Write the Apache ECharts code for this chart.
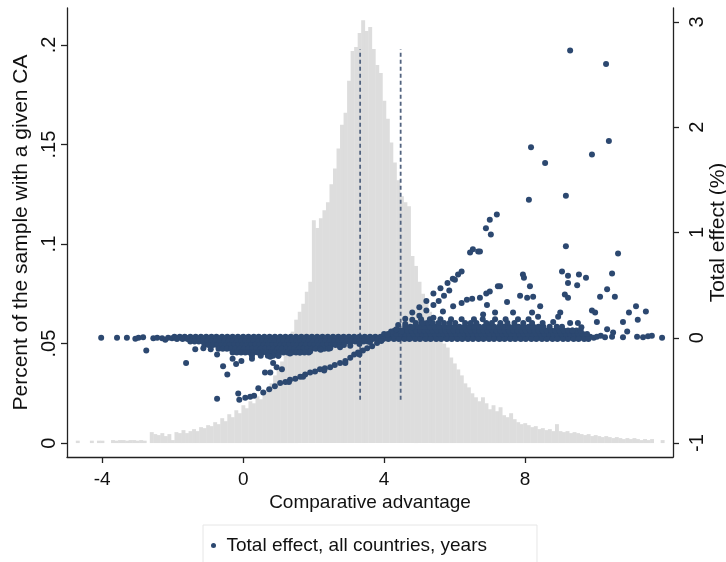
<!DOCTYPE html>
<html>
<head>
<meta charset="utf-8">
<script src="https://cdn.jsdelivr.net/npm/echarts@6/dist/echarts.min.js"></script>
<style>html,body{margin:0;padding:0;background:#fff;}#c{width:726px;height:562px;}</style>
</head>
<body>
<div id="c"></div>
<script>
// ---------- DATA ----------
const xTicks = [-4, 0, 4, 8];
const leftTicks = [0, 0.05, 0.1, 0.15, 0.2];
const rightTicks = [-1, 0, 1, 2, 3];
const xTitle = 'Comparative advantage';
const leftTitle = 'Percent of the sample with a given CA';
const rightTitle = 'Total effect (%)';
const seriesName = 'Total effect, all countries, years';

// Histogram: bin centers start at -4.7, width 0.1
const histBinStart = -4.7;
const histBinWidth = 0.1;
const histHeights = [
  0.0012,0,0,0,0.0012,0,0.0012,0.0012,0,0,
  0.0015,0.0012,0.0015,0.0015,0.0012,0.0015,0.0015,0.0012,0.0015,0.0012,
  0,0.0055,0.0045,0.004,0.005,0.0035,0.0045,0.0015,0.0055,0.005,
  0.0065,0.005,0.006,0.007,0.006,0.008,0.0075,0.009,0.0085,0.0105,
  0.0095,0.0125,0.011,0.0145,0.013,0.0165,0.015,0.019,0.0175,0.021,
  0.02,0.0235,0.022,0.026,0.0275,0.03,0.034,0.037,0.041,0.045,
  0.05,0.056,0.062,0.066,0.07,0.076,0.081,0.112,0.108,0.113,
  0.117,0.121,0.13,0.138,0.148,0.16,0.166,0.182,0.197,0.199,
  0.206,0.2125,0.207,0.209,0.198,0.19,0.186,0.172,0.163,0.151,
  0.141,0.132,0.124,0.121,0.119,0.094,0.089,0.081,0.075,0.07,
  0.066,0.061,0.057,0.052,0.05,0.048,0.043,0.04,0.037,0.034,
  0.03,0.028,0.025,0.023,0.021,0.023,0.02,0.017,0.019,0.016,
  0.018,0.014,0.013,0.015,0.012,0.0105,0.0095,0.01,0.009,0.008,
  0.0085,0.007,0.0075,0.0065,0.007,0.006,0.0095,0.006,0.0055,0.006,
  0.005,0.0055,0.005,0.0045,0.004,0.0045,0.0035,0.004,0.0035,0.003,
  0.0035,0.003,0.0025,0.003,0.0025,0.002,0.0025,0.002,0.0025,0.002,
  0.0015,0.002,0.0015,0.002,0,0,0.0015
];

// Vertical dashed reference lines (right-axis units)
const dashLeft = [[3.32,-0.59],[3.32,2.74]];
const dashRight = [[4.47,-0.59],[4.47,2.74]];

// Scatter: total effect (%) vs comparative advantage, dense rows given as [y, [x...]]
const bandRows = [
  [0.01, [-1.95,-1.8,-1.66,-1.5,-1.35,-1.2,-1.05,-0.9,-0.76,-0.6,-0.45,-0.3,-0.15,0,0.15,0.3,0.44,0.6,0.75,0.9,
    1.05,1.2,1.35,1.5,1.65,1.8,1.95,2.1,2.25,2.4,2.55,2.7,2.85,3,3.15,3.3,3.45,3.6,3.75,3.9,4.05,4.2,4.35,4.5,4.65,
    4.8,4.95,5.1,5.25,5.4,5.55,5.7,5.85,6,6.15,6.3,6.45,6.6,6.75,6.9,7.05,7.2,7.35,7.5,7.65,7.8,7.95,8.1,8.25,8.4,
    8.55,8.7,8.85,9,9.15,9.3,9.45,9.6,9.75,9.85]],
  [0, [-1.92,-1.77,-1.62,-1.47,-1.32,-1.17,-1.02,-0.87,-0.72,-0.57,-0.42,-0.27,-0.12,0.03,0.18,0.33,0.48,0.63,0.78,
    0.93,1.08,1.23,1.38,1.53,1.68,1.83,1.98,2.13,2.28,2.43,2.58,2.73,2.88,3.03,3.18,3.33,3.48,3.63,3.78,3.93,4.08,
    4.23,4.38,4.53,4.68,4.83,4.98,5.13,5.28,5.43,5.58,5.73,5.88,6.03,6.18,6.33,6.48,6.63,6.78,6.93,7.08,7.23,7.38,
    7.53,7.68,7.83,7.98,8.13,8.28,8.43,8.58,8.73,8.88,9.03,9.18,9.33,9.48,9.63,9.78]],
  [-0.012, [-1.88,-1.72,-1.58,-1.43,-1.28,-1.12,-0.98,-0.83,-0.68,-0.52,-0.38,-0.22,-0.08,0.08,0.22,0.37,0.52,0.68,
    0.82,0.98,1.12,1.28,1.42,1.58,1.72,1.88,2.02,2.18,2.32,2.48,2.62,2.78,2.92,3.08,3.22,3.38,3.52,3.68,3.82,3.98,
    4.12,4.28,4.42,4.58,4.72,4.88,5.02,5.18,5.32,5.48,5.62,5.78,5.92,6.08,6.22,6.38,6.52,6.68,6.82,6.98,7.12,7.28,
    7.42,7.58,7.72,7.88,8.02,8.18,8.32,8.48,8.62,8.78,8.92,9.08,9.22,9.38,9.52,9.68,9.8]]
];
const wedgeRows = [
  [-0.035, [-1.5,-1.38,-1.26,-1.14,-1.02,-0.9,-0.78,-0.66,-0.54,-0.42,-0.3,-0.18,-0.06,0.06,0.18,0.3,0.42,0.54,0.66,
    0.78,0.9,1.02,1.14,1.26,1.38,1.5,1.62,1.74,1.86,1.98,2.1,2.22,2.34,2.46,2.58,2.7,2.82,2.94,3.06,3.18,3.3,3.42,3.54]],
  [-0.07, [-1.1,-0.98,-0.86,-0.74,-0.62,-0.5,-0.38,-0.26,-0.14,-0.02,0.1,0.22,0.34,0.46,0.58,0.7,0.82,0.94,1.06,
    1.18,1.3,1.42,1.54,1.66,1.78,1.9,2.02,2.14,2.26,2.38,2.5,2.62,2.74,2.86]],
  [-0.105, [-0.7,-0.58,-0.46,-0.34,-0.22,-0.1,0.02,0.14,0.26,0.38,0.5,0.62,0.74,0.86,0.98,1.1,1.22,1.34,1.46,1.58,
    1.7,1.82,1.94,2.06,2.18,2.3,2.42]],
  [-0.14, [-0.3,-0.18,-0.06,0.06,0.18,0.3,0.42,0.54,0.66,0.78,0.9,1.02,1.14,1.26,1.38,1.5,1.62,1.74,1.86]],
  [-0.17, [0.25,0.5,0.7,0.85,1.0]]
];
const posRows = [
  [0.035, [4.0,4.12,4.24,4.36,4.48,4.6,4.72,4.84,4.96,5.08,5.2,5.32,5.44,5.56,5.68,5.8,5.92,6.04,6.16,6.28,6.4,6.52,
    6.64,6.76,6.88,7.0,7.12,7.24,7.36,7.48,7.6,7.72,7.84,7.96,8.08,8.2,8.32,8.44,8.56,8.68,8.8,8.92,9.04,9.16,9.28,
    9.4,9.52,9.64,9.76]],
  [0.07, [4.3,4.42,4.54,4.66,4.78,4.9,5.02,5.14,5.26,5.38,5.5,5.62,5.74,5.86,5.98,6.1,6.22,6.34,6.46,6.58,6.7,6.82,
    6.94,7.06,7.18,7.3,7.42,7.54,7.66,7.78,7.9,8.02,8.14,8.26,8.38,8.5,8.62,8.74,8.86,8.98,9.1,9.22,9.34,9.46,9.58]],
  [0.105, [4.6,4.74,4.88,5.02,5.16,5.3,5.44,5.58,5.72,5.86,6.0,6.14,6.28,6.42,6.56,6.7,6.84,6.98,7.12,7.26,7.4,7.54,
    7.68,7.82,7.96,8.1,8.24,8.38,8.52,8.7,8.9,9.05]],
  [0.14, [4.9,5.06,5.22,5.38,5.54,5.7,5.86,6.02,6.3,6.46,6.62,6.9,7.06,7.3,7.5,7.7,7.95,8.2,8.5]],
  [0.175, [5.05,5.3,5.6,5.9,6.2,6.55,6.8,7.15,7.45,7.8,8.1]]
];
const bandLeftPts = [[-4.03,0],[-3.58,0],[-3.3,0],[-3.06,-0.01],[-2.97,0],[-2.84,0.005],[-2.75,-0.12],
  [-2.55,-0.005],[-2.44,0],[-2.3,-0.005],[-2.21,-0.02],[-2.13,0],[-2.02,-0.005],[-1.62,-0.24]];
const bandRightPts = [[9.95,0],[10.04,0.01],[10.15,0.02],[10.27,0.005],[10.47,0.01],[10.78,0.005],[11.18,0.01],
  [11.35,0.005],[11.49,0.015],[11.6,0.02],[11.89,0]];
const negScatterPts = [[-1.36,-0.11],[-1.13,-0.1],[-0.92,-0.11],[-0.74,-0.16],[-0.57,-0.27],[-0.45,-0.35],
  [-0.2,-0.25],[-0.3,-0.2],[0.62,-0.33],[0.85,-0.24],[0.77,-0.33],[0.95,-0.28],[1.1,-0.3],[-0.05,-0.22],[0.25,-0.2],
  [0.77,-0.18],[1.0,-0.17],[1.33,-0.15],[1.6,-0.14],[1.9,-0.13],[2.2,-0.115],[2.47,-0.1],[2.75,-0.09],
  [3.04,-0.075],[3.3,-0.06],[3.6,-0.04]];
const lowerLinePts = [[-0.74,-0.58],[-0.14,-0.53],[-0.11,-0.59],[0.06,-0.57],[0.2,-0.56],[0.31,-0.55],[0.43,-0.48],
  [0.57,-0.52],[0.74,-0.49],[0.9,-0.46],[1.05,-0.43],[1.2,-0.42],[1.33,-0.4],[1.48,-0.39],[1.62,-0.37],[1.76,-0.35],
  [1.9,-0.33],[2.04,-0.32],[2.18,-0.3],[2.32,-0.29],[2.47,-0.28],[2.6,-0.26],[2.75,-0.24],[2.9,-0.22],[3.04,-0.19],
  [3.15,-0.16],[3.26,-0.14],[3.4,-0.12],[3.52,-0.1],[3.66,-0.08],[3.8,-0.05],[3.92,-0.03],
  [1.3,-0.42],[1.7,-0.37],[2.3,-0.31],[2.9,-0.24],[3.3,-0.16]];
const fanPts = [
  [4.2,0.06],[4.4,0.12],[4.6,0.18],[4.8,0.24],[5.0,0.29],[5.2,0.35],[5.4,0.42],[5.6,0.47],[5.8,0.52],[5.95,0.56],[6.1,0.6],[6.2,0.63],
  [4.1,0.03],[4.35,0.08],[4.6,0.13],[4.8,0.17],[5.0,0.21],[5.2,0.26],[5.4,0.31],[5.55,0.35],[5.7,0.4],[5.85,0.45],
  [4.5,0.06],[4.8,0.1],[5.1,0.14],[5.4,0.19],[5.67,0.25],[5.96,0.3],[6.2,0.33],[6.35,0.36],[6.5,0.37],[6.72,0.38],[6.9,0.42],[7.0,0.44],[7.23,0.49]];
const posScatterPts = [
  [6.01,0.55],[6.44,0.81],[6.52,0.84],[6.67,0.82],[6.89,1.04],[7.0,1.12],[7.2,1.17],[7.03,0.98],[7.49,0.34],
  [7.94,0.6],[7.97,0.57],[6.72,0.82],
  [9.28,2.73],[10.3,2.6],[8.17,1.81],[8.57,1.66],[10.38,1.87],[9.9,1.74],[8.11,1.31],[9.16,1.35],
  [9.16,0.87],[10.64,0.8],[9.05,0.63],[9.22,0.59],[9.53,0.6],[9.73,0.57],[10.47,0.61],
  [7.29,0.49],[8.14,0.49],[9.22,0.52],[9.48,0.5],[10.33,0.46],[7.86,0.4],[8.06,0.38],[8.23,0.39],
  [9.13,0.41],[9.22,0.38],[10.13,0.39],[10.55,0.39],[8.43,0.3],[9.0,0.24],[9.9,0.26],[9.99,0.24],
  [11.15,0.3],[10.95,0.24],[11.43,0.25],[11.2,0.17],[10.78,0.15],[6.92,0.31],[6.81,0.22],[7.15,0.24],
  [7.66,0.24],[8.2,0.24],[8.37,0.2],[8.94,0.2],[8.8,0.15],[9.28,0.14],[9.5,0.14],[10.04,0.15],[10.33,0.08],
  [9.6,0.1],[9.35,0.07],[10.5,0.05],[10.9,0.06]];

// ---------- CHART ----------
const NAVY = '#2c4870';
const FONT = 'Liberation Sans, Arial, Helvetica, sans-serif';
function rowsToPts(rows) {
  const out = [];
  rows.forEach(r => r[1].forEach(x => out.push([x, r[0]])));
  return out;
}
const scatterData = [].concat(bandLeftPts, rowsToPts(bandRows), bandRightPts, rowsToPts(wedgeRows),
  negScatterPts, lowerLinePts, rowsToPts(posRows), fanPts, posScatterPts);
const histData = histHeights.map((h, i) => [histBinStart + i * histBinWidth, h]);

const chart = echarts.init(document.getElementById('c'), null, {renderer: 'canvas'});
const axisLineStyle = {color: '#222', width: 1.3};
chart.setOption({
  animation: false,
  backgroundColor: '#fff',
  textStyle: {fontFamily: FONT},
  grid: {left: 67, right: 53, top: 8, bottom: 105, containLabel: false, outerBoundsMode: 'none'},
  legend: {
    data: [{name: seriesName, icon: 'circle'}],
    left: 203, top: 525,
    padding: [11, 50, 20, 8],
    itemWidth: 16, itemHeight: 5,
    borderColor: '#e6e6e6', borderWidth: 1,
    textStyle: {fontSize: 19, color: '#111', fontFamily: FONT}
  },
  xAxis: {
    type: 'value', min: -5, max: 12.2,
    name: xTitle, nameLocation: 'middle', nameGap: 36, nameMoveOverlap: false,
    nameTextStyle: {fontSize: 19, color: '#111', fontFamily: FONT},
    axisLine: {show: true, onZero: false, lineStyle: axisLineStyle},
    axisTick: {show: true, length: 6, lineStyle: axisLineStyle, customValues: xTicks},
    axisLabel: {fontSize: 19, color: '#111', margin: 13, customValues: xTicks, fontFamily: FONT},
    splitLine: {show: false}
  },
  yAxis: [{
    type: 'value', min: -0.007, max: 0.2186, position: 'left',
    name: leftTitle, nameLocation: 'middle', nameGap: 35, nameRotate: 90, nameMoveOverlap: false,
    nameTextStyle: {fontSize: 21, color: '#111', fontFamily: FONT},
    axisLine: {show: true, onZero: false, lineStyle: axisLineStyle},
    axisTick: {show: true, length: 6, lineStyle: axisLineStyle, customValues: leftTicks},
    axisLabel: {fontSize: 20, color: '#111', margin: 8, rotate: 90, customValues: leftTicks, fontFamily: FONT,
      formatter: v => v === 0 ? '0' : String(+v.toFixed(3)).replace(/^0\./, '.')},
    splitLine: {show: false}
  }, {
    type: 'value', min: -1.133, max: 3.133, position: 'right',
    name: rightTitle, nameLocation: 'middle', nameGap: 35, nameRotate: 90, nameMoveOverlap: false,
    nameTextStyle: {fontSize: 21, color: '#111', fontFamily: FONT},
    axisLine: {show: true, onZero: false, lineStyle: axisLineStyle},
    axisTick: {show: true, length: 6, lineStyle: axisLineStyle, customValues: rightTicks},
    axisLabel: {fontSize: 20, color: '#111', margin: 14, rotate: 90, customValues: rightTicks, fontFamily: FONT},
    splitLine: {show: false}
  }],
  series: [{
    type: 'custom', name: 'hist', xAxisIndex: 0, yAxisIndex: 0, silent: true, z: 1,
    data: histData,
    encode: {x: 0, y: 1},
    renderItem: function (params, api) {
      const x = api.value(0), h = api.value(1);
      const p0 = api.coord([x - histBinWidth / 2, 0]);
      const p1 = api.coord([x + histBinWidth / 2, h]);
      return {type: 'rect', shape: {x: p0[0], y: p1[1], width: p1[0] - p0[0] + 0.4, height: p0[1] - p1[1]},
        style: {fill: '#dddddd'}};
    }
  }, {
    type: 'line', name: 'dashL', yAxisIndex: 1, data: dashLeft, symbol: 'none', silent: true, z: 2,
    lineStyle: {color: '#52637f', width: 1.8, type: [4, 3]}
  }, {
    type: 'line', name: 'dashR', yAxisIndex: 1, data: dashRight, symbol: 'none', silent: true, z: 2,
    lineStyle: {color: '#52637f', width: 1.8, type: [4, 3]}
  }, {
    type: 'scatter', name: seriesName, yAxisIndex: 1, data: scatterData, z: 3,
    symbol: 'circle', symbolSize: 6, large: false,
    itemStyle: {color: NAVY, opacity: 1}
  }]
});
</script>
</body>
</html>
